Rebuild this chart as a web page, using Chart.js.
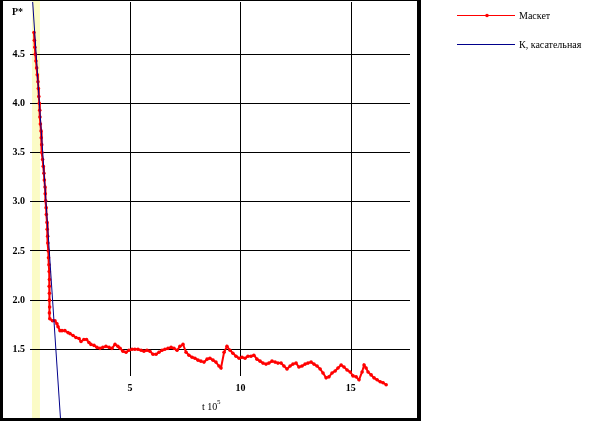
<!DOCTYPE html>
<html>
<head>
<meta charset="utf-8">
<script src="https://cdn.jsdelivr.net/npm/chart.js@4"></script>
<style>
  body { margin: 0; background: #fff; }
  canvas { display: block; }
</style>
</head>
<body>
<canvas id="chart" width="594" height="421"></canvas>
<script>
// Маскет - значения
const maskX = [0.65,0.67,0.69,0.71,0.74,0.77,0.80,0.83,0.85,0.87,0.89,0.91,0.92,0.94,0.97,0.98,1.00,1.01,1.04,1.07,
  1.10,1.12,1.15,1.16,1.18,1.20,1.21,1.24,1.25,1.27,1.28,1.30,1.31,1.33,1.34,1.35,1.34,1.35,1.35,1.36,1.35,1.37,
  1.49,1.60,1.69,1.74,1.83,1.92,2.05,2.19,2.28,2.42,2.55,2.69,2.78,2.91,3.03,3.14,3.23,3.37,3.50,3.64,
  3.77,3.91,4.05,4.18,4.32,4.45,4.55,4.68,4.82,4.95,5.09,5.22,5.36,5.50,5.63,5.77,5.90,6.04,6.18,6.31,
  6.45,6.58,6.72,6.86,6.99,7.13,7.26,7.40,7.54,7.67,7.81,7.94,8.08,8.21,8.35,8.49,8.62,8.76,8.89,9.03,
  9.12,9.26,9.39,9.53,9.66,9.80,9.94,10.07,10.21,10.34,10.48,10.61,10.75,10.89,11.02,11.16,11.29,11.43,11.57,11.70,
  11.84,11.97,12.11,12.25,12.38,12.52,12.65,12.79,12.93,13.06,13.20,13.33,13.47,13.61,13.74,13.88,14.01,14.15,14.29,14.42,
  14.56,14.69,14.83,14.97,15.10,15.24,15.37,15.51,15.60,15.69,15.78,15.92,16.05,16.19,16.33,16.46,16.60];
const maskY = [4.72,4.64,4.57,4.50,4.43,4.36,4.29,4.22,4.15,4.07,4.00,3.93,3.86,3.79,3.72,3.65,3.58,3.50,3.43,3.36,
  3.29,3.22,3.15,3.08,3.01,2.94,2.87,2.79,2.72,2.65,2.58,2.50,2.43,2.36,2.29,2.21,2.14,2.07,2.00,1.93,1.87,1.81,
  1.79,1.79,1.76,1.73,1.69,1.69,1.69,1.67,1.66,1.64,1.62,1.61,1.58,1.60,1.60,1.57,1.55,1.54,1.52,1.51,
  1.52,1.53,1.52,1.51,1.55,1.53,1.51,1.48,1.47,1.49,1.50,1.50,1.50,1.49,1.48,1.49,1.48,1.45,1.45,1.47,
  1.49,1.50,1.51,1.52,1.51,1.49,1.53,1.55,1.47,1.44,1.42,1.41,1.39,1.38,1.37,1.40,1.41,1.39,1.37,1.33,
  1.31,1.47,1.53,1.49,1.46,1.43,1.41,1.42,1.41,1.43,1.43,1.44,1.40,1.38,1.36,1.35,1.36,1.38,1.37,1.36,
  1.36,1.33,1.30,1.33,1.35,1.36,1.32,1.33,1.35,1.36,1.37,1.35,1.33,1.30,1.26,1.21,1.22,1.26,1.28,1.31,
  1.34,1.32,1.29,1.27,1.23,1.22,1.19,1.27,1.34,1.31,1.27,1.24,1.21,1.19,1.17,1.16,1.14];

// К, касательная - прямая
const tangentX = [0.54, 1.88];
const tangentY = [5.2, 0.7];

const xTicks = [5, 10, 15];
const yTicks = [1.5, 2.0, 2.5, 3.0, 3.5, 4.0, 4.5];
const bandX = [0.56, 0.92];   // жёлтая полоса

const seriesNames = ['Маскет', 'К, касательная'];
const RED = '#ff0000';
const BLUE = '#00008b';

const serif = '"Liberation Serif", "Times New Roman", serif';

const decorPlugin = {
  id: 'decor',
  beforeDraw(chart) {
    const { ctx, chartArea, scales } = chart;
    const x0 = scales.x.getPixelForValue(bandX[0]);
    const x1 = scales.x.getPixelForValue(bandX[1]);
    ctx.save();
    ctx.fillStyle = '#fbfbc6';
    ctx.fillRect(x0, 0, x1 - x0, chartArea.bottom);
    ctx.restore();
  },
  beforeDatasetsDraw(chart) {
    const { ctx, chartArea, scales } = chart;
    ctx.save();
    ctx.strokeStyle = '#000';
    ctx.lineWidth = 1;
    xTicks.forEach(v => {
      const px = Math.round(scales.x.getPixelForValue(v)) + 0.5;
      ctx.beginPath();
      ctx.moveTo(px, chartArea.top);
      ctx.lineTo(px, 376);
      ctx.stroke();
    });
    ctx.restore();
  },
  afterDraw(chart) {
    const { ctx, scales } = chart;
    ctx.save();
    // подписи оси x внутри графика
    ctx.fillStyle = '#000';
    ctx.font = 'bold 10px ' + serif;
    ctx.textAlign = 'center';
    ctx.textBaseline = 'middle';
    xTicks.forEach(v => {
      ctx.fillText(String(v), scales.x.getPixelForValue(v), 388);
    });
    ctx.textAlign = 'left';
    ctx.fillText('P*', 12, 12);

    ctx.font = '10px ' + serif;
    ctx.fillText('t 10', 202, 407);
    ctx.font = '7px ' + serif;
    ctx.fillText('5', 217, 402);

    // рамка
    ctx.fillStyle = '#000';
    ctx.fillRect(0, 0, 3, 421);
    ctx.fillRect(0, 418, 421, 3);
    ctx.fillRect(417, 0, 4, 421);
    ctx.fillRect(0, 0, 420, 1);

    // легенда
    ctx.lineWidth = 1;
    ctx.strokeStyle = RED;
    ctx.beginPath(); ctx.moveTo(457, 15.5); ctx.lineTo(515, 15.5); ctx.stroke();
    ctx.fillStyle = RED;
    ctx.beginPath(); ctx.arc(487, 15.5, 1.8, 0, Math.PI * 2); ctx.fill();
    ctx.strokeStyle = BLUE;
    ctx.beginPath(); ctx.moveTo(457, 44.5); ctx.lineTo(515, 44.5); ctx.stroke();
    ctx.fillStyle = '#000';
    ctx.font = '10px ' + serif;
    ctx.textBaseline = 'middle';
    ctx.fillText(seriesNames[0], 519, 16);
    ctx.fillText(seriesNames[1], 519, 45);
    ctx.restore();
  }
};

new Chart(document.getElementById('chart'), {
  type: 'scatter',
  data: {
    datasets: [
      {
        label: seriesNames[1],
        data: tangentX.map((x, i) => ({ x: x, y: tangentY[i] })),
        showLine: true,
        borderColor: BLUE,
        borderWidth: 1,
        pointRadius: 0,
        order: 0
      },
      {
        label: seriesNames[0],
        data: maskX.map((x, i) => ({ x: x, y: maskY[i] })),
        showLine: true,
        borderColor: RED,
        borderWidth: 2,
        backgroundColor: RED,
        pointRadius: 1.8,
        pointBorderWidth: 0,
        pointBackgroundColor: RED,
        order: 1
      }
    ]
  },
  options: {
    responsive: false,
    animation: false,
    layout: { autoPadding: false, padding: { top: 2, bottom: 3, right: 184, left: 0 } },
    plugins: {
      legend: { display: false },
      tooltip: { enabled: false }
    },
    scales: {
      x: {
        type: 'linear',
        min: 0.47,
        max: 17.68,
        display: false
      },
      y: {
        type: 'linear',
        min: 0.802,
        max: 5.03,
        afterBuildTicks(scale) {
          scale.ticks = yTicks.map(v => ({ value: v }));
        },
        afterFit(scale) {
          scale.width = 30;
          scale.paddingTop = 0;
          scale.paddingBottom = 0;
        },
        border: { display: false },
        grid: { color: '#000', lineWidth: 1, drawTicks: false },
        ticks: {
          padding: 5,
          color: '#000',
          font: { family: serif, size: 10, weight: 'bold' },
          callback: v => v.toFixed(1)
        }
      }
    }
  },
  plugins: [decorPlugin]
});
</script>
</body>
</html>
